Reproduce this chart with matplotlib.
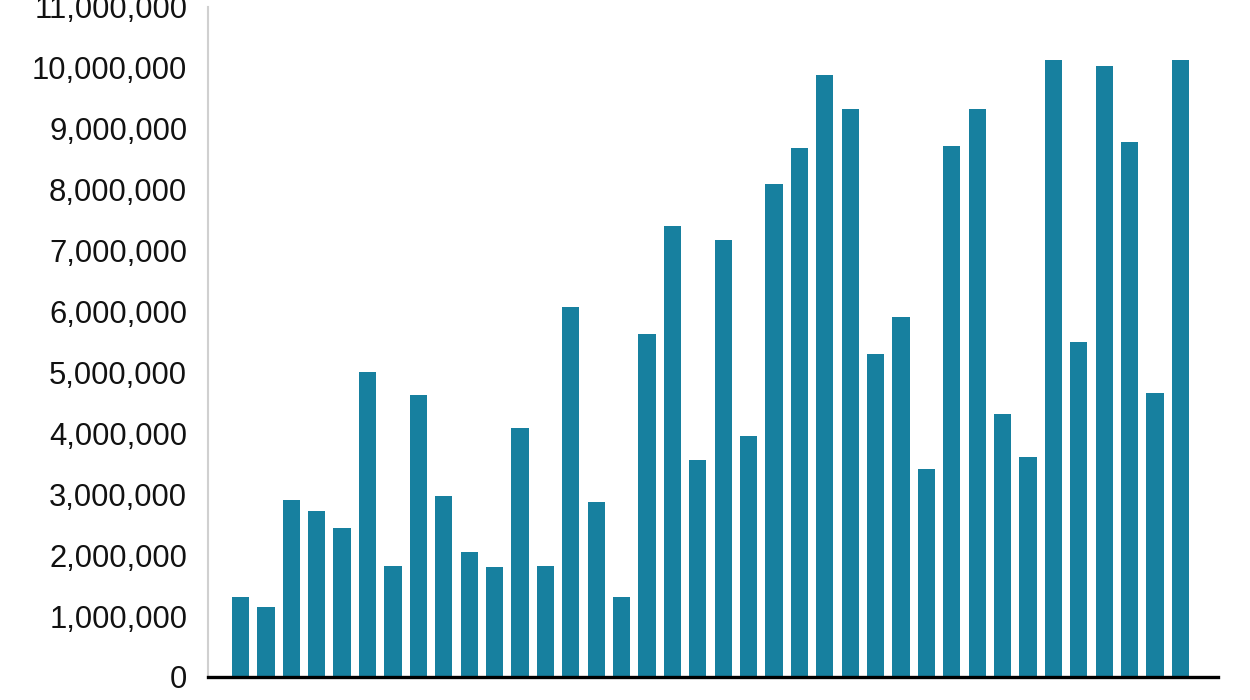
import matplotlib.pyplot as plt
from matplotlib.ticker import FuncFormatter

plt.rcParams["font.family"] = ["Liberation Sans", "DejaVu Sans"]

# bar values (left to right)
values = [
    1.32e6, 1.15e6, 2.90e6, 2.73e6, 2.44e6, 5.01e6, 1.83e6, 4.63e6,
    2.97e6, 2.06e6, 1.80e6, 4.09e6, 1.83e6, 6.08e6, 2.87e6, 1.32e6,
    5.63e6, 7.40e6, 3.57e6, 7.18e6, 3.95e6, 8.10e6, 8.68e6, 9.88e6,
    9.32e6, 5.30e6, 5.91e6, 3.41e6, 8.71e6, 9.32e6, 4.32e6, 3.61e6,
    10.13e6, 5.50e6, 10.03e6, 8.78e6, 4.66e6, 10.13e6,
]
yticks = list(range(0, 11_000_001, 1_000_000))

BAR_COLOR = "#17809f"

fig = plt.figure(figsize=(12.5, 7), dpi=100)
ax = fig.add_axes([208 / 1250, 23 / 700, 1010 / 1250, 670 / 700])

x = range(len(values))
ax.bar(x, values, width=0.68, color=BAR_COLOR)

ax.set_xlim(-1.28, len(values) + 0.48)
ax.set_ylim(0, 11_000_000)
ax.set_yticks(yticks)
ax.yaxis.set_major_formatter(FuncFormatter(lambda v, _: f"{int(v):,}"))
ax.set_xticks([])
ax.tick_params(axis="y", length=0, pad=15, labelsize=22.3, labelcolor="#111111")

ax.spines[["top", "right"]].set_visible(False)
ax.spines["left"].set_color("#d0d0d0")
ax.spines["left"].set_linewidth(1.5)
ax.spines["bottom"].set_color("black")
ax.spines["bottom"].set_linewidth(2.4)

fig.savefig("out.png", dpi=100)
